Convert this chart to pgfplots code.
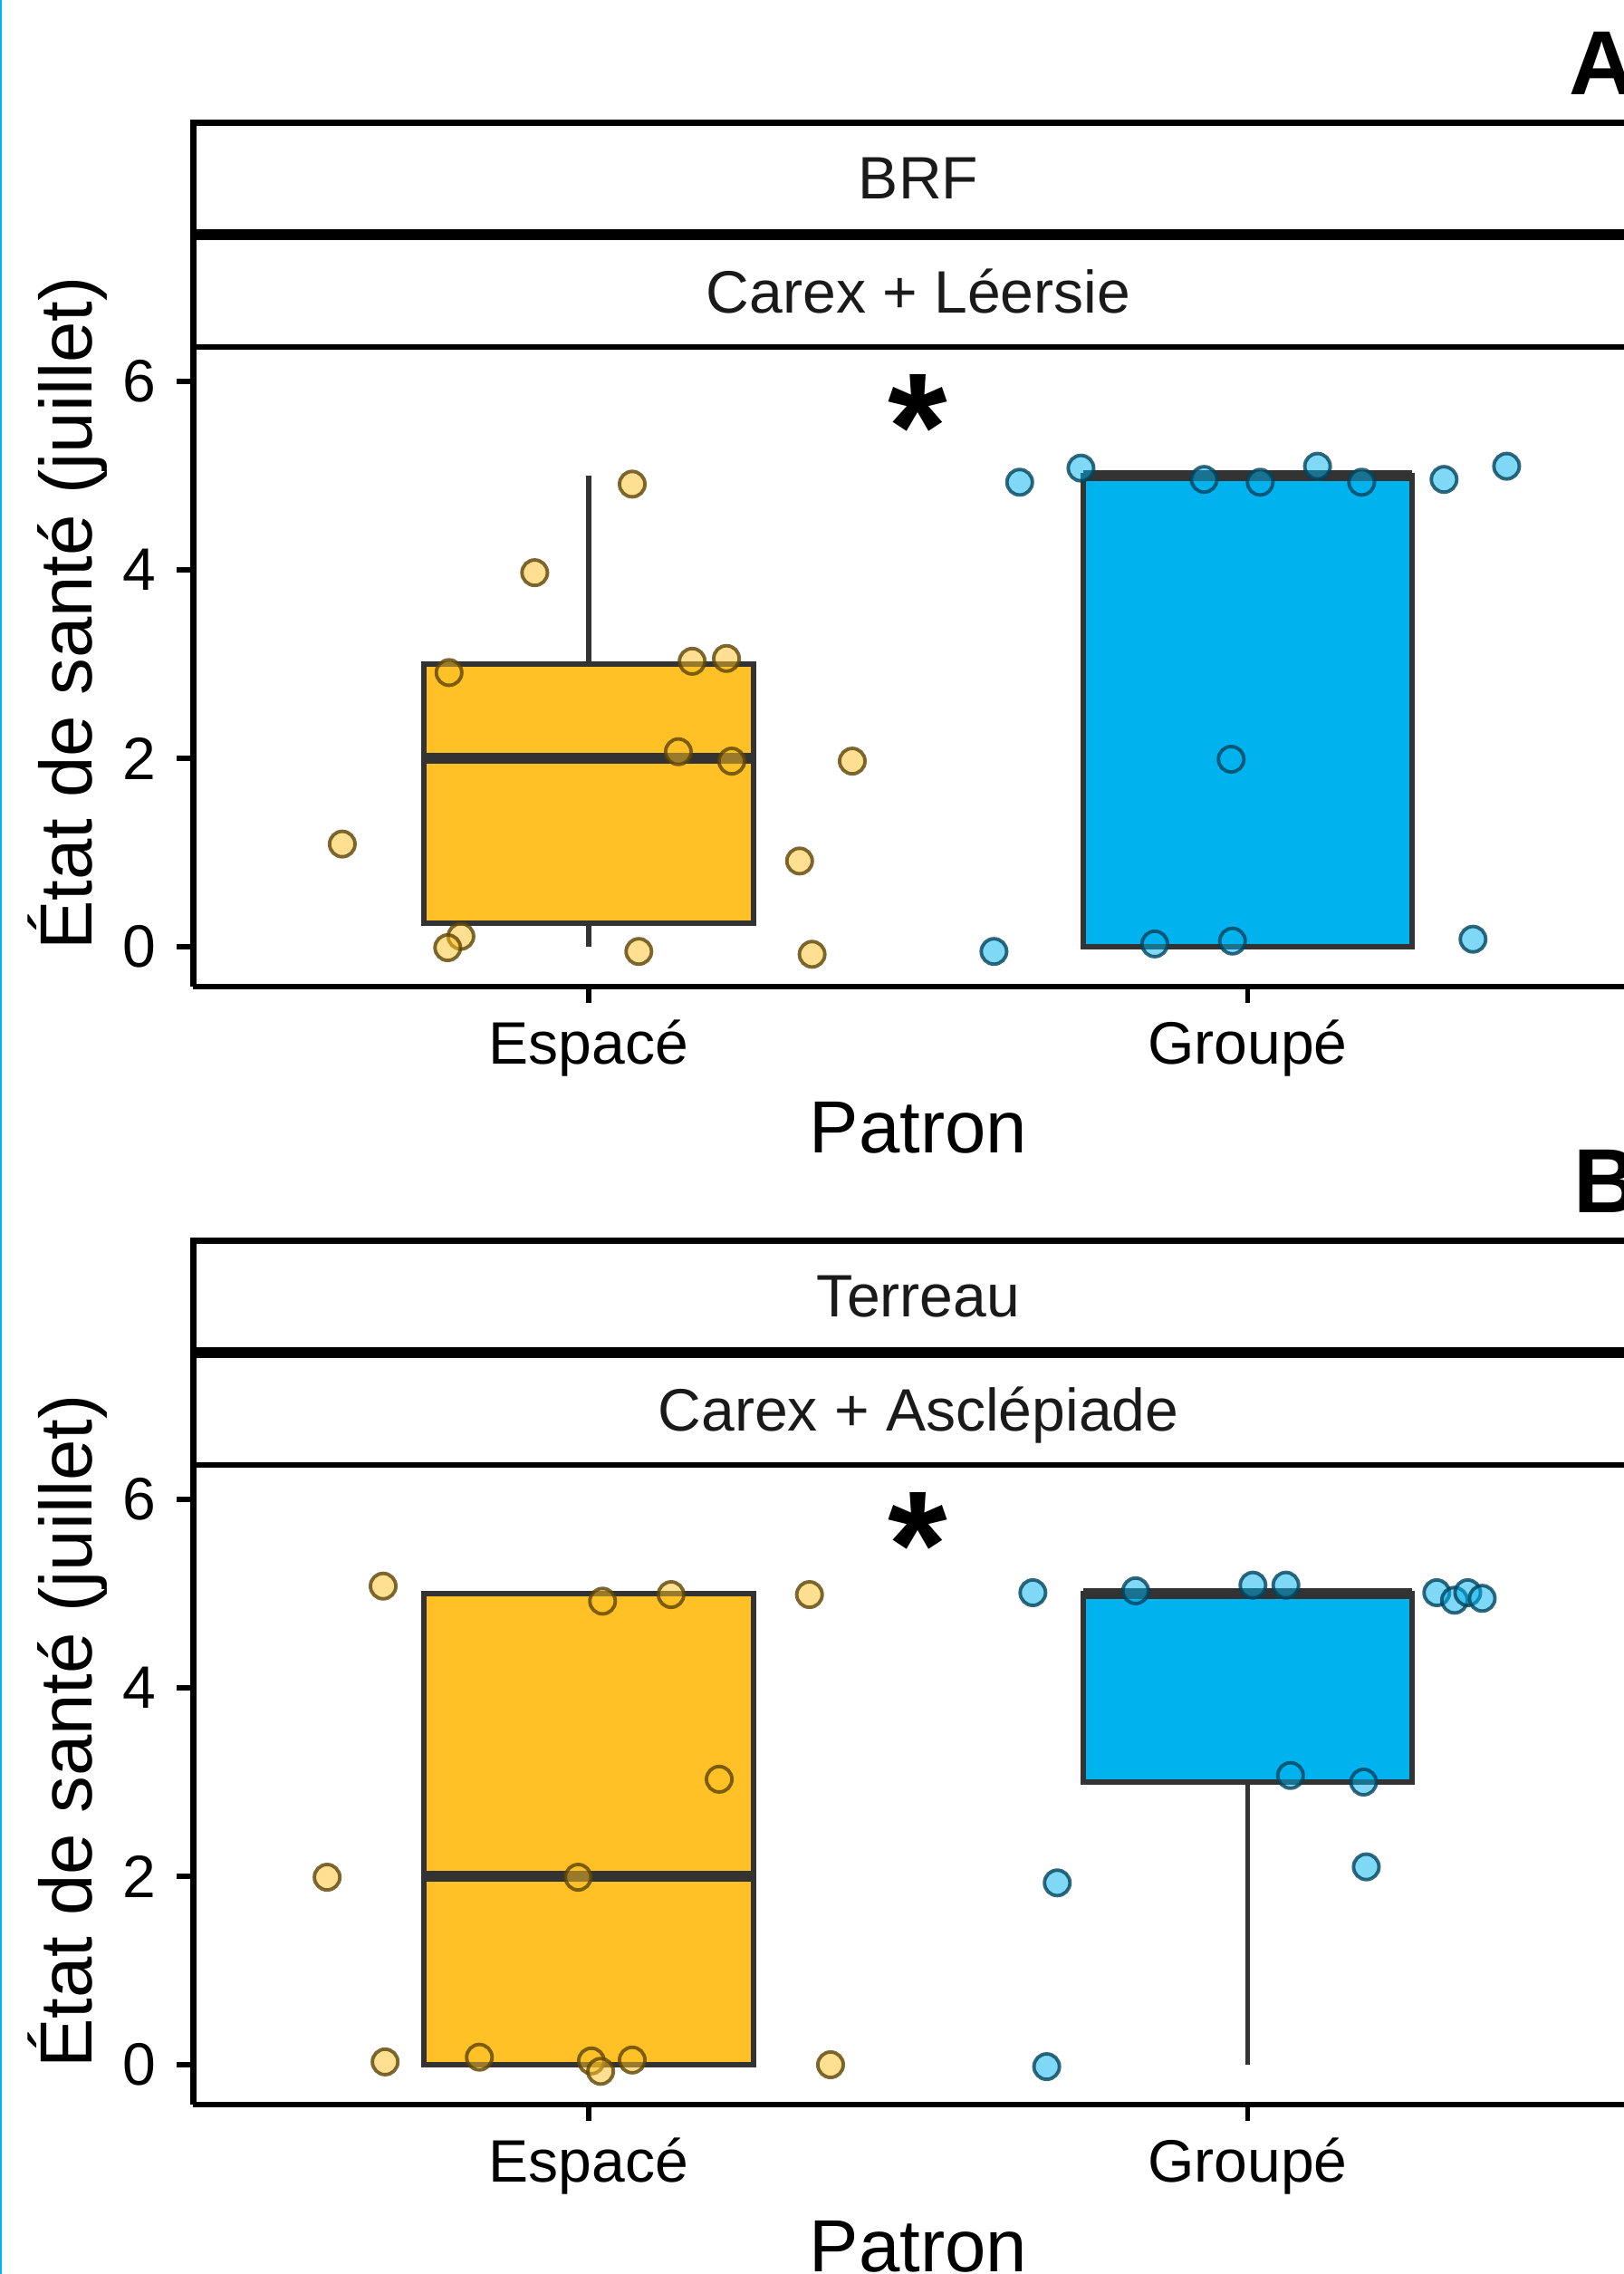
\documentclass[border=0pt]{standalone}
\usepackage{fontspec}
\setmainfont{Liberation Sans}
\usepackage{pgfplots}
\pgfplotsset{compat=1.18}
\usepgfplotslibrary{statistics}

\definecolor{boxorange}{RGB}{255,193,37}
\definecolor{boxblue}{RGB}{0,178,238}
\definecolor{boxline}{RGB}{51,51,51}
\definecolor{edgeorange}{RGB}{92,68,5}
\definecolor{edgeblue}{RGB}{0,67,92}
\definecolor{leftcyan}{RGB}{0,180,240}
\definecolor{striptext}{RGB}{26,26,26}

\pgfplotsset{
  panel/.style={
    scale only axis, width=16.005cm, height=7.03cm,
    xmin=0.4, xmax=2.6, ymin=-0.423, ymax=6.337,
    axis lines=left,
    axis line style={line width=1.9pt, black, -},
    xtick={1,2}, xticklabels={Espacé,Groupé},
    ytick={0,2,4,6},
    tick align=outside, major tick length=5.2pt,
    tick style={line width=1.6pt, black},
    every tick label/.append style={font=\fontsize{18.8}{20}\selectfont, text=black},
    xticklabel style={anchor=base, yshift=-19.2pt},
    yticklabel style={anchor=east, inner sep=0pt, xshift=-6.3pt},
    /pgf/number format/assume math mode=true,
    boxplot/draw direction=y,
    clip=false,
  },
  bx/.style={draw=boxline, line width=1.65pt},
  ptso/.style={only marks, mark=*, mark size=4.0pt,
    mark options={fill=boxorange, fill opacity=0.5, draw=edgeorange, draw opacity=0.8, line width=1.1pt}},
  ptsb/.style={only marks, mark=*, mark size=4.0pt,
    mark options={fill=boxblue, fill opacity=0.5, draw=edgeblue, draw opacity=0.8, line width=1.1pt}},
}

\begin{document}
\begin{tikzpicture}
\path[use as bounding box] (0,0) rectangle (17.93,25.10);

% ---------------- Panel A ----------------
\begin{axis}[panel, at={(2.135cm,14.21cm)}, anchor=south west]
\addplot[bx, fill=boxorange, boxplot prepared={draw position=1, lower whisker=0, lower quartile=0.25, median=2, upper quartile=3, upper whisker=5, box extend=0.5, whisker extend=0, every median/.style={line width=3.5pt}}] coordinates {};
\addplot[bx, fill=boxblue, boxplot prepared={draw position=2, lower whisker=0, lower quartile=0, median=5, upper quartile=5, upper whisker=5, box extend=0.5, whisker extend=0, every median/.style={line width=3.5pt}}] coordinates {};
\addplot[ptso] coordinates {(1.066,4.91) (0.918,3.97) (0.788,2.91) (1.157,3.03) (1.209,3.06) (1.136,2.07) (1.217,1.97) (1.400,1.97) (0.626,1.09) (1.320,0.91) (0.806,0.11) (0.786,-0.01) (1.076,-0.05) (1.339,-0.08)};
\addplot[ptsb] coordinates {(1.654,4.93) (1.747,5.08) (1.934,4.96) (2.019,4.93) (2.106,5.10) (2.173,4.93) (2.298,4.96) (2.393,5.10) (1.975,1.99) (1.615,-0.05) (1.859,0.03) (1.977,0.06) (2.342,0.08)};
\node[anchor=north, inner sep=0pt, font=\fontsize{48}{48}\selectfont\bfseries] at (axis cs:1.5,6.08) {*};
\end{axis}

% ---------------- Panel B ----------------
\begin{axis}[panel, at={(2.135cm,1.87cm)}, anchor=south west]
\addplot[bx, fill=boxorange, boxplot prepared={draw position=1, lower whisker=0, lower quartile=0, median=2, upper quartile=5, upper whisker=5, box extend=0.5, whisker extend=0, every median/.style={line width=3.5pt}}] coordinates {};
\addplot[bx, fill=boxblue, boxplot prepared={draw position=2, lower whisker=0, lower quartile=3, median=5, upper quartile=5, upper whisker=5, box extend=0.5, whisker extend=0, every median/.style={line width=3.5pt}}] coordinates {};
\addplot[ptso] coordinates {(0.688,5.08) (1.021,4.92) (1.125,4.99) (1.335,4.99) (1.198,3.03) (0.603,1.99) (0.984,1.99) (0.691,0.03) (0.834,0.08) (1.004,0.04) (1.018,-0.07) (1.066,0.05) (1.367,0.00)};
\addplot[ptsb] coordinates {(1.674,5.01) (1.830,5.03) (2.008,5.09) (2.058,5.09) (2.287,5.01) (2.314,4.93) (2.334,5.01) (2.356,4.95) (2.065,3.07) (2.176,3.00) (2.180,2.10) (1.711,1.93) (1.695,-0.02)};
\node[anchor=north, inner sep=0pt, font=\fontsize{48}{48}\selectfont\bfseries] at (axis cs:1.5,6.08) {*};
\end{axis}

% ---------------- Strips (each box with its own border) ----------------
\begin{scope}[line width=1.8pt]
% panel A strips
\draw (2.135,23.745) rectangle (18.3,22.54);
\draw (2.135,22.48) rectangle (18.3,21.27);
% panel B strips
\draw (2.135,11.405) rectangle (18.3,10.20);
\draw (2.135,10.14) rectangle (18.3,8.93);
\end{scope}
\begin{scope}[every node/.style={anchor=base, inner sep=0pt, text=striptext, font=\fontsize{18.8}{20}\selectfont}]
\node at (10.14,22.90) {BRF};
\node at (10.14,21.64) {Carex + Léersie};
\node at (10.14,10.56) {Terreau};
\node at (10.14,9.30) {Carex + Asclépiade};
\end{scope}

% ---------------- Axis titles ----------------
\begin{scope}[every node/.style={inner sep=0pt, font=\fontsize{23.2}{24}\selectfont}]
\node[rotate=90, anchor=center] at (0.75,18.33) {État de santé (juillet)};
\node[rotate=90, anchor=center] at (0.75,5.99) {État de santé (juillet)};
\node[anchor=base] at (10.14,12.37) {Patron};
\node[anchor=base] at (10.14,0.03) {Patron};
\end{scope}

% ---------------- Panel letters ----------------
\node[anchor=base west, inner sep=0pt, font=\fontsize{28.6}{30}\selectfont\bfseries] at (17.32,24.05) {A};
\node[anchor=base west, inner sep=0pt, font=\fontsize{28.6}{30}\selectfont\bfseries] at (17.37,11.71) {B};

% left edge line
\draw[leftcyan, line width=0.02cm] (0.01,0) -- (0.01,25.10);
\end{tikzpicture}
\end{document}
